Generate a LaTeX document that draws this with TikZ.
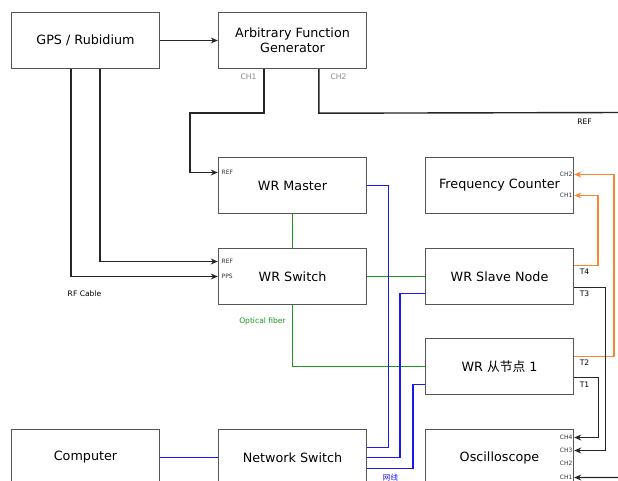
\documentclass[tikz,border=0pt]{standalone}
\usepackage{fontspec}
\setmainfont{DejaVu Sans}
\newfontfamily\cjk{Noto Sans CJK SC}
\usetikzlibrary{arrows.meta}
\definecolor{boxline}{HTML}{555555}
\definecolor{netblue}{HTML}{1A1AF0}
\definecolor{fibregreen}{HTML}{1E961E}
\definecolor{sigorange}{HTML}{FF8533}
\definecolor{portgray}{HTML}{888888}
\tikzset{
  unit/.style={draw=boxline, line width=1.4bp, fill=white, minimum width=148bp,
    minimum height=56bp, inner sep=0pt, font=\fontsize{12.8}{15}\selectfont, align=center},
  wire/.style={line width=1.4bp, draw=black!85},
  arr/.style={wire, -{Stealth[length=7bp,width=6bp]}},
  eth/.style={line width=1.4bp, draw=netblue},
  fibre/.style={line width=1.4bp, draw=fibregreen},
  ref/.style={line width=1.6bp, draw=sigorange, -{Stealth[length=7bp,width=6bp]}},
  port/.style={font=\fontsize{6}{7}\selectfont, inner sep=0pt, text=black!80},
  tag/.style={font=\fontsize{7.6}{9}\selectfont, inner sep=0pt},
}
\begin{document}
\begin{tikzpicture}[x=1bp, y=-1bp]
\useasboundingbox (0,0) rectangle (618,481);
\clip (0,0) rectangle (618,481);
\begin{scope}[shift={(0.5,0.5)}]

% instruments
\node[unit] (gps)     at (85,40)   {GPS / Rubidium};
\node[unit] (afg)     at (292,40)  {Arbitrary Function\\Generator};
\node[unit] (master)  at (292,185) {WR Master};
\node[unit] (counter) at (499,185) {Frequency Counter};
\node[unit] (switch)  at (292,276) {WR Switch};
\node[unit] (slave)   at (499,276) {WR Slave Node};
\node[unit] (node1)   at (499,366) {WR {\cjk 从节点} 1};
\node[unit] (pc)      at (85,457)  {Computer};
\node[unit] (netsw)   at (292,457) {Network Switch};
\node[unit] (scope)   at (499,457) {Oscilloscope};

% off-picture ends
\coordinate (refout) at (625,112);
\coordinate (ch1in)  at (625,477);

% reference signals
\draw[arr] (gps) -- (afg);
\draw[arr] ([xshift=46bp]afg.south west) -- ++(0,44) -| ([xshift=-28bp,yshift=13bp]master.west) -- ([yshift=13bp]master.west);
\draw[wire] ([xshift=101bp]afg.south west) -- ++(0,44) -- (refout);
\draw[arr] ([xshift=89bp]gps.south west) |- ([yshift=15bp]switch.west);
\draw[arr] ([xshift=60bp]gps.south west) |- (switch.west);

% optical fibre links
\draw[fibre] (master.south) -- (switch.north);
\draw[fibre] (switch.east) -- (slave.west);
\draw[fibre] (switch.south) |- (node1.west);

% timing outputs
\draw[ref] ([yshift=11bp]slave.east) -- ++(24,0) |- ([yshift=-10bp]counter.east);
\draw[ref] ([yshift=10bp]node1.east) -- ++(40,0) |- ([yshift=11bp]counter.east);
\draw[arr] ([yshift=-11bp]slave.east) -- ++(31,0) |- ([yshift=7bp]scope.east);
\draw[arr] ([yshift=-11bp]node1.east) -- ++(24,0) |- ([yshift=20bp]scope.east);
\draw[arr] (ch1in) -- ([yshift=-20bp]scope.east);

% management network
\draw[eth] (pc) -- (netsw);
\draw[eth] (master.east) -- ++(21,0) |- ([yshift=10bp]netsw.east);
\draw[eth] ([yshift=-17bp]slave.west) -- ++(-25,0) |- (netsw.east);
\draw[eth] ([yshift=-18bp]node1.west) -- ++(-12,0) |- ([yshift=-11bp]netsw.east);

% labels
\node[tag, text=portgray] at (248,76) {CH1};
\node[tag, text=portgray] at (338,76) {CH2};
\node[tag] at (584,121) {REF};
\node[port, anchor=west] at (221,172) {REF};
\node[port, anchor=west] at (221,261) {REF};
\node[port, anchor=west] at (221,276) {PPS};
\node[tag] at (84,293) {RF Cable};
\node[tag, text=fibregreen] at (262,321) {Optical fiber};
\node[port, anchor=east] at (572,174) {CH2};
\node[port, anchor=east] at (572,195) {CH1};
\node[tag] at (584,271) {T4};
\node[tag] at (584,293) {T3};
\node[tag] at (584,362) {T2};
\node[tag] at (584,384) {T1};
\node[port, anchor=east] at (572,437) {CH4};
\node[port, anchor=east] at (572,450) {CH3};
\node[port, anchor=east] at (572,463) {CH2};
\node[port, anchor=east] at (572,477) {CH1};
\node[tag, text=netblue] at (390,477) {\cjk 网线};
\end{scope}
\end{tikzpicture}
\end{document}
